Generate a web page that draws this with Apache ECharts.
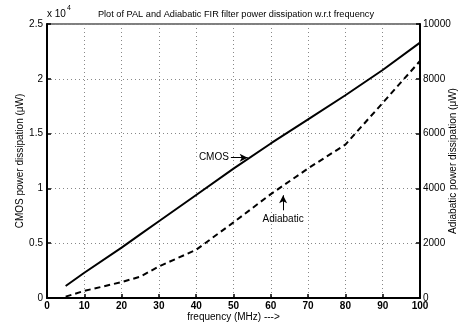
<!DOCTYPE html>
<html>
<head>
<meta charset="utf-8">
<script src="https://cdn.jsdelivr.net/npm/echarts@6/dist/echarts.min.js"></script>
<style>
  html, body { margin: 0; padding: 0; background: #fff; }
  #chart { width: 461px; height: 322px; }
</style>
</head>
<body>
<div id="chart"></div>
<script>
// frequency (MHz) sample points
var freq = [5, 10, 20, 25, 30, 40, 50, 60, 70, 80, 90, 100];
// CMOS power dissipation (uW), left axis
var cmos = [1100, 2300, 4600, 5800, 7000, 9400, 11800, 14100, 16300, 18500, 20800, 23300];
// Adiabatic power dissipation (uW), right axis
var adiabatic = [50, 260, 580, 780, 1150, 1760, 2760, 3790, 4730, 5600, 7120, 8650];

var xTicks = [0, 10, 20, 30, 40, 50, 60, 70, 80, 90, 100];
var leftTicks = ['0', '0.5', '1', '1.5', '2', '2.5'];
var rightTicks = ['0', '2000', '4000', '6000', '8000', '10000'];

var FONT = 'Liberation Sans';

function pairs(xs, ys) {
  return xs.map(function (x, i) { return [x, ys[i]]; });
}

var chart = echarts.init(document.getElementById('chart'), null, { renderer: 'canvas' });

var option = {
  animation: false,
  backgroundColor: '#fff',
  textStyle: { fontFamily: FONT },
  title: {
    text: 'Plot of PAL and Adiabatic FIR filter power dissipation w.r.t frequency',
    left: 231, top: 5, textAlign: 'center',
    textStyle: { fontSize: 9.2, fontWeight: 'normal', color: '#000', fontFamily: FONT }
  },
  grid: {
    left: 47, right: 41, top: 24, bottom: 24,
    outerBoundsMode: 'none',
    show: true, borderColor: '#000', borderWidth: 1.2
  },
  xAxis: {
    type: 'value', min: 0, max: 100, interval: 10,
    name: 'frequency (MHz) --->', nameLocation: 'middle', nameGap: 14,
    nameMoveOverlap: false,
    nameTextStyle: { fontSize: 10, color: '#000' },
    axisLine: { lineStyle: { color: '#000', width: 2 } },
    axisTick: { inside: true, length: 4, lineStyle: { color: '#000', width: 1.5 } },
    axisLabel: {
      margin: 3, fontSize: 10, color: '#000', fontWeight: 'bold',
      formatter: function (v) { return xTicks.indexOf(v) >= 0 ? String(v) : ''; }
    },
    splitLine: { show: true, lineStyle: { color: '#888', type: [1, 3], width: 1 } }
  },
  yAxis: [
    {
      type: 'value', min: 0, max: 25000, interval: 5000, position: 'left',
      name: 'CMOS power dissipation (\u03bcW)', nameLocation: 'middle', nameGap: 22,
      nameMoveOverlap: false,
      nameTextStyle: { fontSize: 10, color: '#000' },
      axisLine: { show: true, lineStyle: { color: '#000', width: 2 } },
      axisTick: { show: true, inside: true, length: 4, lineStyle: { color: '#000', width: 1.5 } },
      axisLabel: {
        margin: 4, fontSize: 10, color: '#000',
        formatter: function (v) { return leftTicks[Math.round(v / 5000)]; }
      },
      splitLine: { show: true, lineStyle: { color: '#888', type: [1, 3], width: 1 } }
    },
    {
      type: 'value', min: 0, max: 10000, interval: 2000, position: 'right',
      name: 'Adiabatic power dissipation (\u03bcW)', nameLocation: 'middle', nameGap: 28,
      nameRotate: 90, nameMoveOverlap: false,
      nameTextStyle: { fontSize: 10, color: '#000' },
      axisLine: { show: true, lineStyle: { color: '#000', width: 2 } },
      axisTick: { show: true, inside: true, length: 4, lineStyle: { color: '#000', width: 1.5 } },
      axisLabel: {
        margin: 3, fontSize: 10, color: '#000',
        formatter: function (v) { return rightTicks[Math.round(v / 2000)]; }
      },
      splitLine: { show: false }
    }
  ],
  graphic: [
    {
      type: 'text', left: 47, top: 9,
      style: { text: 'x 10', fontSize: 10, fill: '#000', fontFamily: FONT }
    },
    {
      type: 'text', left: 67, top: 5,
      style: { text: '4', fontSize: 7, fill: '#000', fontFamily: FONT }
    }
  ],
  series: [
    {
      name: 'CMOS', type: 'line', yAxisIndex: 0,
      data: pairs(freq, cmos),
      showSymbol: false, symbol: 'none',
      lineStyle: { color: '#000', width: 2 },
      markLine: {
        silent: true, symbol: ['none', 'arrow'], symbolSize: [6, 8],
        lineStyle: { color: '#000', width: 1, type: 'solid' },
        label: { show: true, position: 'start', formatter: 'CMOS', fontSize: 10, color: '#000', distance: 2 },
        data: [[{ coord: [49.3, 12800] }, { coord: [53.8, 12800] }]]
      }
    },
    {
      name: 'Adiabatic', type: 'line', yAxisIndex: 1,
      data: pairs(freq, adiabatic),
      showSymbol: false, symbol: 'none',
      lineStyle: { color: '#000', width: 2, type: [6, 4] },
      markLine: {
        silent: true, symbol: ['none', 'arrow'], symbolSize: [6, 8],
        lineStyle: { color: '#000', width: 1, type: 'solid' },
        label: { show: true, position: 'start', formatter: 'Adiabatic', fontSize: 10, color: '#000', distance: 4 },
        data: [[{ coord: [63.3, 3200] }, { coord: [63.3, 3750] }]]
      }
    }
  ]
};

chart.setOption(option);
</script>
</body>
</html>
